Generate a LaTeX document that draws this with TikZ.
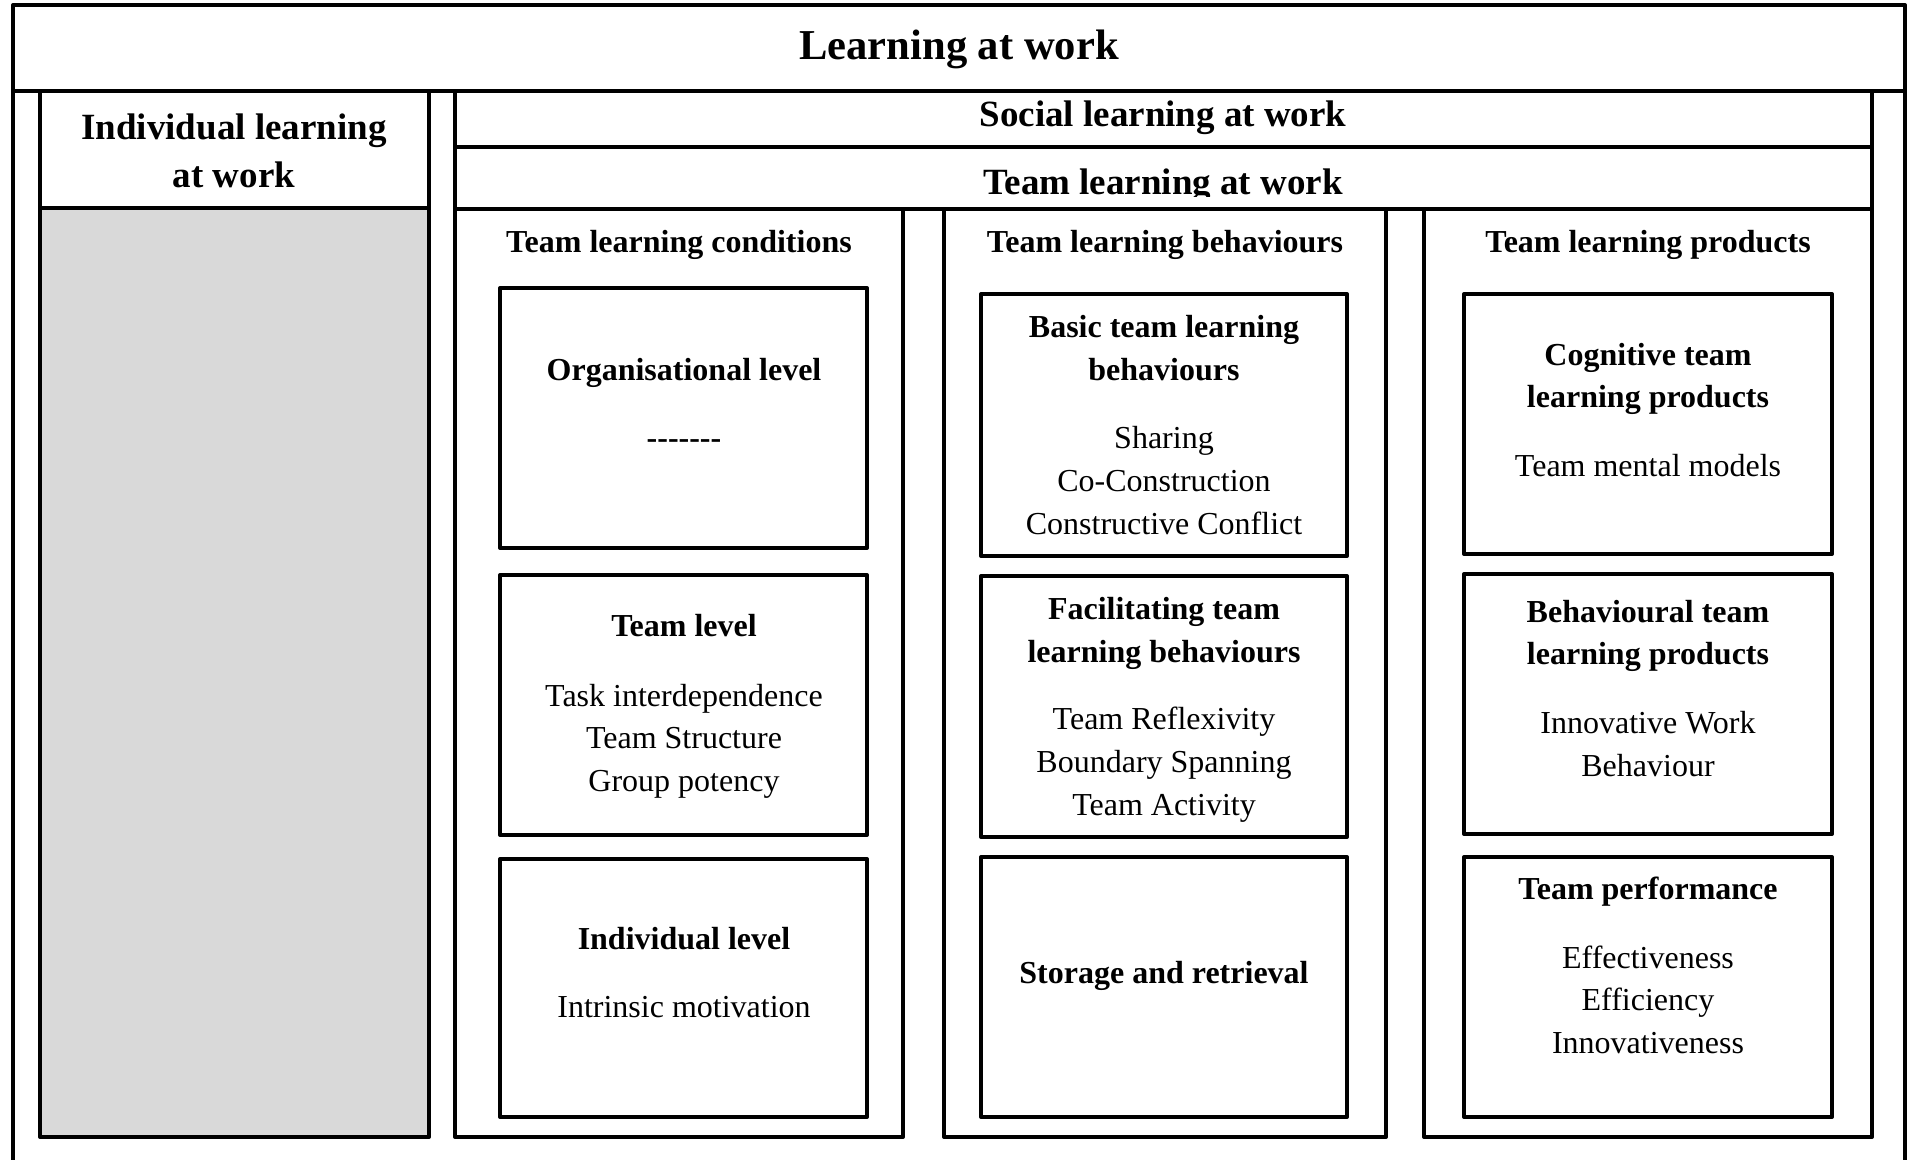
\documentclass[tikz,border=0pt]{standalone}
\usepackage{fontspec}
\setmainfont{Liberation Serif}
\usepackage{xcolor}
\definecolor{panelgray}{HTML}{D9D9D9}

\begin{document}
\begin{tikzpicture}[x=0.5pt,y=-0.5pt,
  frame/.style={draw,line width=2pt,line join=round},
  title/.style={font=\bfseries\fontsize{21.3}{25}\selectfont,anchor=base},
  band/.style={font=\bfseries\fontsize{18.5}{22}\selectfont,anchor=base},
  hd/.style={font=\bfseries\fontsize{16}{19}\selectfont,anchor=base},
  txt/.style={font=\fontsize{16}{19}\selectfont,anchor=base}]

  \clip (0,0) rectangle (1915,1160);
  \fill[white] (0,0) rectangle (1915,1160);

  % outer frame with the title strip
  \draw[frame] (13,5) rectangle (1905,1180);
  \draw[frame] (13,91) -- (1905,91);
  \node[title] (learn) at (959,60) {Learning at work};

  % individual side
  \draw[frame] (40,91) rectangle (429,208);
  \draw[frame,fill=panelgray] (40,208) rectangle (429,1137);
  \node[band] (indiv1) at (234,140) {Individual learning};
  \node[band] (indiv2) at (234,188) {at work};

  % social and team strips
  \draw[frame] (455,91) rectangle (1872,147);
  \node[band] (social) at (1163,127) {Social learning at work};
  \draw[frame] (455,147) rectangle (1872,209);
  \begin{scope}
    % the strip's text is cut just under its baseline
    \clip (455,147) rectangle (1872,197);
    \node[band] (team) at (1163,195) {Team learning at work};
  \end{scope}

  % three columns
  \draw[frame,fill=white] (455,209) rectangle (903,1137);
  \draw[frame,fill=white] (944,209) rectangle (1386,1137);
  \draw[frame,fill=white] (1424,209) rectangle (1872,1137);
  \node[hd] (cond) at (679,253) {Team learning conditions};
  \node[hd] (behav) at (1165,253) {Team learning behaviours};
  \node[hd] (prod) at (1648,253) {Team learning products};

  % conditions
  \draw[frame] (500,288) rectangle (867,548);
  \draw[frame] (500,575) rectangle (867,835);
  \draw[frame] (500,859) rectangle (867,1117);
  \node[hd] (org) at (684,380) {Organisational level};
  \node[hd] (orgdash) at (684,448) {{-}{-}{-}{-}{-}{-}{-}};
  \node[hd] (teamlvl) at (684,636) {Team level};
  \foreach \t [count=\i] in {Task interdependence,Team Structure,Group potency}
    \node[txt] (teamlvl-\i) at (684,{706+42.5*(\i-1)}) {\t};
  \node[hd] (indlvl) at (684,949) {Individual level};
  \node[txt] (indlvl-1) at (684,1017) {Intrinsic motivation};

  % behaviours
  \draw[frame] (981,294) rectangle (1347,556);
  \draw[frame] (981,576) rectangle (1347,837);
  \draw[frame] (981,857) rectangle (1347,1117);
  \node[hd] (basic1) at (1164,338) {Basic team learning};
  \node[hd] (basic2) at (1164,380) {behaviours};
  \foreach \t [count=\i] in {Sharing,Co-Construction,Constructive Conflict}
    \node[txt] (basic-\i) at (1164,{448+43*(\i-1)}) {\t};
  \node[hd] (facil1) at (1164,619) {Facilitating team};
  \node[hd] (facil2) at (1164,662) {learning behaviours};
  \foreach \t [count=\i] in {Team Reflexivity,Boundary Spanning,Team Activity}
    \node[txt] (facil-\i) at (1164,{729+43*(\i-1)}) {\t};
  \node[hd] (store) at (1164,983) {Storage and retrieval};

  % products
  \draw[frame] (1464,294) rectangle (1832,554);
  \draw[frame] (1464,574) rectangle (1832,834);
  \draw[frame] (1464,857) rectangle (1832,1117);
  \node[hd] (cogn1) at (1648,365) {Cognitive team};
  \node[hd] (cogn2) at (1648,408) {learning products};
  \node[txt] (cogn-1) at (1648,476) {Team mental models};
  \node[hd] (bhv1) at (1648,622) {Behavioural team};
  \node[hd] (bhv2) at (1648,664) {learning products};
  \node[txt] (bhv-1) at (1648,733) {Innovative Work};
  \node[txt] (bhv-2) at (1648,776) {Behaviour};
  \node[hd] (perf) at (1648,899) {Team performance};
  \foreach \t [count=\i] in {Effectiveness,Efficiency,Innovativeness}
    \node[txt] (perf-\i) at (1648,{968+42.5*(\i-1)}) {\t};
\end{tikzpicture}
\end{document}
